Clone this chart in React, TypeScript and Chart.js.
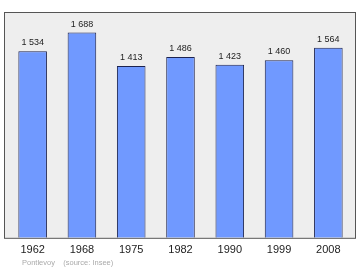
import React, { useEffect, useRef } from "react";
import { Chart, registerables } from "chart.js";

Chart.register(...registerables);

const years = ["1962", "1968", "1975", "1982", "1990", "1999", "2008"];
const population = [1534, 1688, 1413, 1486, 1423, 1460, 1564];
const valueLabels = ["1 534", "1 688", "1 413", "1 486", "1 423", "1 460", "1 564"];
const sourceText = "Pontlevoy    (source: Insee)";

const FONT = "'Liberation Sans', Arial, sans-serif";

const boxPlugin = {
  id: "boxPlugin",
  beforeDatasetsDraw(chart: any) {
    const { ctx, chartArea } = chart;
    const x0 = chartArea.left - 4;
    const x1 = chartArea.right + 3;
    ctx.save();
    ctx.fillStyle = "#eeeeee";
    ctx.fillRect(x0, chartArea.top, x1 - x0, chartArea.bottom - chartArea.top);
    ctx.strokeStyle = "#555555";
    ctx.lineWidth = 1;
    ctx.strokeRect(x0 + 0.5, chartArea.top + 0.5, x1 - x0 - 1, chartArea.bottom - chartArea.top);
    ctx.restore();
  },
  afterDatasetsDraw(chart: any) {
    const { ctx } = chart;
    const meta = chart.getDatasetMeta(0);
    ctx.save();
    ctx.fillStyle = "#222222";
    ctx.font = `9px ${FONT}`;
    ctx.textAlign = "center";
    ctx.textBaseline = "alphabetic";
    meta.data.forEach((bar: any, i: number) => {
      ctx.fillText(valueLabels[i], bar.x, bar.y - 6);
    });
    ctx.fillStyle = "#aaaaaa";
    ctx.font = `7.5px ${FONT}`;
    ctx.textAlign = "left";
    ctx.textBaseline = "middle";
    ctx.fillText(sourceText, 22, 263);
    ctx.restore();
  },
};

export default function App() {
  const ref = useRef<HTMLCanvasElement | null>(null);
  useEffect(() => {
    document.body.style.margin = "0";
    if (!ref.current) return;
    const chart = new Chart(ref.current, {
      type: "bar",
      data: {
        labels: years,
        datasets: [
          {
            data: population,
            backgroundColor: "#7099ff",
            borderColor: "#1c2350",
            borderWidth: 1,
            barPercentage: 0.58,
            categoryPercentage: 1,
          },
        ],
      },
      options: {
        responsive: false,
        animation: false,
        layout: { padding: { left: 8, right: 7, top: 12, bottom: 7 } },
        plugins: { legend: { display: false }, tooltip: { enabled: false } },
        scales: {
          x: {
            grid: { display: false, drawTicks: false },
            border: { display: false },
            ticks: { color: "#222222", font: { size: 11, family: FONT }, padding: 6 },
          },
          y: { display: false, min: 0, max: 1857 },
        },
      },
      plugins: [boxPlugin],
    });
    return () => chart.destroy();
  }, []);
  return <canvas ref={ref} width={360} height={270} style={{ display: "block" }} />;
}
